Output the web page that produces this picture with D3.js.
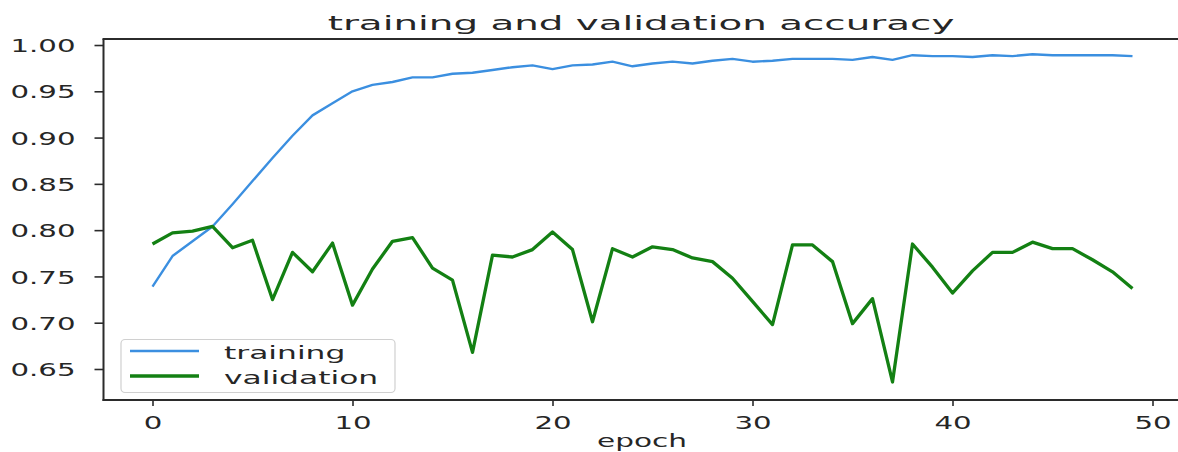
<!DOCTYPE html>
<html>
<head>
<meta charset="utf-8">
<script src="https://cdn.jsdelivr.net/npm/d3@7"></script>
<style>
  html, body { margin: 0; padding: 0; background: #fff; }
  svg { display: block; font-family: "DejaVu Sans", sans-serif; }
</style>
</head>
<body>
<svg id="chart" width="1178" height="452"></svg>
<script>
const epochs = d3.range(0, 50);
const training = [
  0.739, 0.772, 0.788, 0.804, 0.828, 0.853, 0.878, 0.902, 0.924, 0.937,
  0.950, 0.957, 0.960, 0.965, 0.965, 0.969, 0.970, 0.973, 0.976, 0.978,
  0.974, 0.978, 0.979, 0.982, 0.977, 0.980, 0.982, 0.980, 0.983, 0.985,
  0.982, 0.983, 0.985, 0.985, 0.985, 0.984, 0.987, 0.984, 0.989, 0.988,
  0.988, 0.987, 0.989, 0.988, 0.990, 0.989, 0.989, 0.989, 0.989, 0.988
];
const validation = [
  0.785, 0.797, 0.799, 0.804, 0.781, 0.789, 0.725, 0.776, 0.755, 0.786,
  0.719, 0.758, 0.788, 0.792, 0.759, 0.746, 0.668, 0.773, 0.771, 0.779,
  0.798, 0.779, 0.701, 0.780, 0.771, 0.782, 0.779, 0.770, 0.766, 0.748,
  0.723, 0.698, 0.784, 0.784, 0.766, 0.699, 0.726, 0.636, 0.785, 0.760,
  0.732, 0.756, 0.776, 0.776, 0.787, 0.780, 0.780, 0.768, 0.755, 0.737
];
const xTicks = [0, 10, 20, 30, 40, 50];
const yTicks = [0.65, 0.70, 0.75, 0.80, 0.85, 0.90, 0.95, 1.00];
const seriesNames = ["training", "validation"];
const titleText = "training and validation accuracy";
const xLabelText = "epoch";

const colors = { training: "#3b8fe0", validation: "#138013" };

const svg = d3.select("#chart");
const L = 103.5, R = 1181.5, T = 39, B = 400;
const x = d3.scaleLinear().domain([-2.45, 51.45]).range([L, R]);
const y = d3.scaleLinear().domain([0.6165, 1.0065]).range([B, T]);

function stretch(sel, opts) {
  sel.each(function() {
    const el = d3.select(this);
    const w = this.getComputedTextLength();
    const sx = opts.width ? opts.width / w : opts.factor;
    const ax = +el.attr("data-x"), ay = +el.attr("data-y");
    el.attr("x", 0).attr("y", 0)
      .attr("transform", `translate(${ax},${ay}) scale(${sx},1)`);
  });
}

// lines
const line = d3.line().x((d, i) => x(epochs[i])).y(d => y(d));
svg.append("path").datum(training)
  .attr("d", line).attr("fill", "none")
  .attr("stroke", colors.training).attr("stroke-width", 2.4)
  .attr("stroke-linejoin", "round");
svg.append("path").datum(validation)
  .attr("d", line).attr("fill", "none")
  .attr("stroke", colors.validation).attr("stroke-width", 3.3)
  .attr("stroke-linejoin", "round");

// spines (right spine lies outside the picture)
const spine = (x1, y1, x2, y2) => svg.append("line")
  .attr("x1", x1).attr("y1", y1).attr("x2", x2).attr("y2", y2)
  .attr("stroke", "#2b2b2b").attr("stroke-width", 2);
spine(L, T, L, B + 1);
spine(L - 1, T, 1178, T);
spine(L - 1, B, 1178, B);

// y axis
const yAxis = d3.axisLeft(y).tickValues(yTicks).tickFormat(d3.format(".2f"))
  .tickSize(9).tickPadding(0);
const gy = svg.append("g").attr("transform", `translate(${L},0)`).call(yAxis);
gy.select(".domain").remove();
gy.selectAll(".tick line").attr("stroke", "#2b2b2b").attr("stroke-width", 1.6);
gy.selectAll(".tick text")
  .attr("font-size", 17).attr("fill", "#262626")
  .attr("font-family", "DejaVu Sans")
  .attr("text-anchor", "end").attr("dy", null)
  .attr("dominant-baseline", "central")
  .attr("data-x", -28).attr("data-y", 1);
stretch(gy.selectAll(".tick text"), { factor: 1.72 });

// x axis
const xAxis = d3.axisBottom(x).tickValues(xTicks).tickFormat(d3.format("d"))
  .tickSize(6).tickPadding(0);
const gx = svg.append("g").attr("transform", `translate(0,${B})`).call(xAxis);
gx.select(".domain").remove();
gx.selectAll(".tick line").attr("stroke", "#2b2b2b").attr("stroke-width", 1.6);
gx.selectAll(".tick text")
  .attr("font-size", 17).attr("fill", "#262626")
  .attr("font-family", "DejaVu Sans")
  .attr("text-anchor", "middle").attr("dy", null)
  .attr("data-x", 0).attr("data-y", 29);
stretch(gx.selectAll(".tick text"), { factor: 1.72 });

// title
svg.append("text").text(titleText)
  .attr("font-size", 20).attr("fill", "#262626").attr("text-anchor", "middle")
  .attr("data-x", 641).attr("data-y", 30)
  .call(stretch, { width: 627 });

// x label
svg.append("text").text(xLabelText)
  .attr("font-size", 17).attr("fill", "#262626").attr("text-anchor", "middle")
  .attr("data-x", 642).attr("data-y", 447)
  .call(stretch, { width: 90 });

// legend
const lg = svg.append("g");
lg.append("rect").attr("x", 121).attr("y", 339.5).attr("width", 274).attr("height", 53)
  .attr("rx", 4).attr("fill", "#fff").attr("fill-opacity", 0.8)
  .attr("stroke", "#d0d0d0").attr("stroke-width", 1.2);
seriesNames.forEach((name, i) => {
  const ly = 351 + i * 25;
  lg.append("line").attr("x1", 130).attr("x2", 199).attr("y1", ly).attr("y2", ly)
    .attr("stroke", colors[name]).attr("stroke-width", i === 0 ? 2.4 : 3.3);
  lg.append("text").text(name)
    .attr("font-size", 17.5).attr("fill", "#262626")
    .attr("data-x", 224).attr("data-y", ly + 7.5)
    .call(stretch, { factor: 1.79 });
});
</script>
</body>
</html>
